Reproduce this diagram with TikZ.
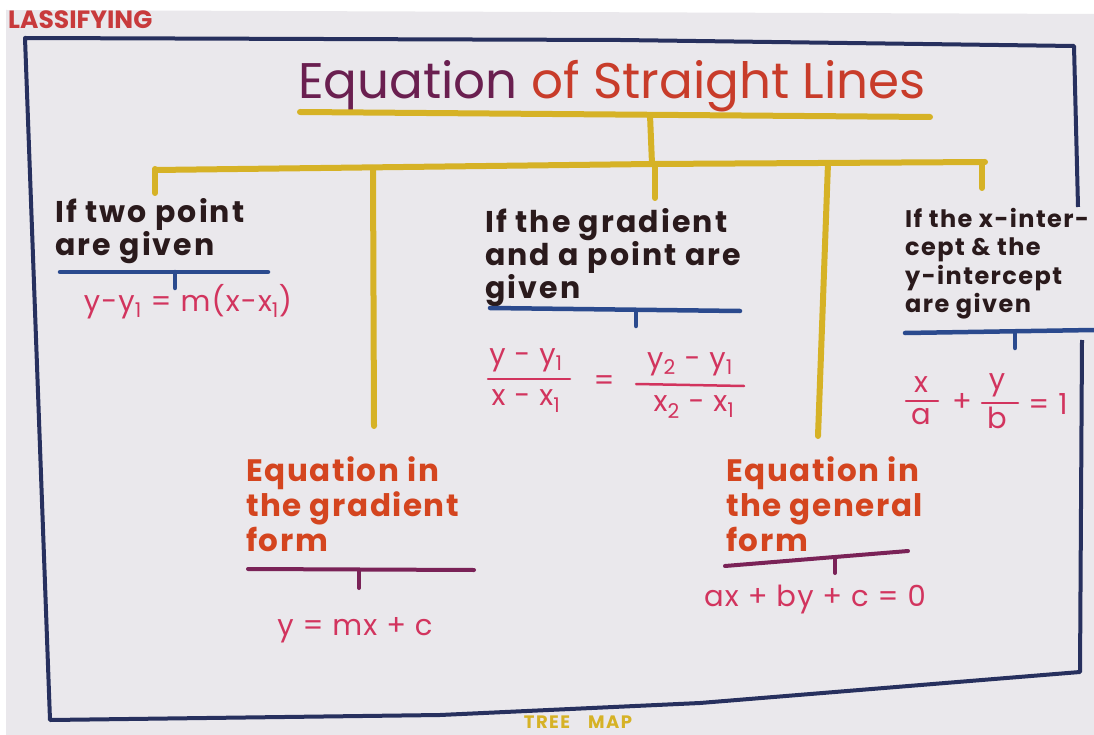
\documentclass[tikz,border=0pt]{standalone}
\usepackage{fontspec}
\setmainfont{Poppins}
\definecolor{paper}{HTML}{EAE8EC}
\definecolor{framenavy}{HTML}{27305E}
\definecolor{treeyellow}{HTML}{D6B226}
\definecolor{penblue}{HTML}{2B4A8E}
\definecolor{penpurple}{HTML}{7A2257}
\definecolor{inkblack}{HTML}{2A1A1C}
\definecolor{titlepurple}{HTML}{6A1F50}
\definecolor{titlered}{HTML}{C83C2A}
\definecolor{inkpink}{HTML}{D2345E}
\definecolor{inkorange}{HTML}{D4451F}
\definecolor{classred}{HTML}{C83A3C}
\begin{document}
\begin{tikzpicture}[x=1pt,y=-1pt,
  yel/.style={draw=treeyellow,line width=6pt,line cap=round},
  blu/.style={draw=penblue,line width=4.5pt,line cap=round},
  pur/.style={draw=penpurple,line width=4pt,line cap=round},
  framestyle/.style={draw=framenavy,line width=4pt,line join=round},
  blk/.style={text=inkblack,align=left,anchor=north west,inner sep=0pt,font=\fontsize{30}{33}\selectfont\bfseries\addfontfeatures{LetterSpace=7}},
  blksmall/.style={text=inkblack,align=left,anchor=north west,inner sep=0pt,font=\fontsize{24}{28.5}\selectfont\bfseries\addfontfeatures{LetterSpace=6}},
  org/.style={text=inkorange,align=left,anchor=north west,inner sep=0pt,font=\fontsize{31}{35}\selectfont\bfseries\addfontfeatures{LetterSpace=5}},
  pnk/.style={text=inkpink,inner sep=0pt,font=\fontsize{29}{30}\selectfont\addfontfeatures{LetterSpace=4}},
  fracbar/.style={draw=inkpink,line width=2.5pt,line cap=round}
]
\useasboundingbox (0,0) rectangle (1094,735);
\fill[white] (0,0) rectangle (1094,735);
\fill[paper] (6,10) -- (1094,14) -- (1094,735) -- (6,735) -- cycle;

% frame
\coordinate (TL) at (25,38);
\coordinate (TM) at (620,40);
\coordinate (TR) at (1074,46);
\coordinate (RA) at (1078,207);
\coordinate (RB) at (1082,340);
\coordinate (BR) at (1080,672);
\coordinate (BM1) at (700,703);
\coordinate (BM2) at (440,715);
\coordinate (BL) at (50,720);
\draw[framestyle] (RA) -- (TR) -- (TM) -- (TL) -- (BL) -- (BM2) -- (BM1) -- (BR) -- (RB);

% header texts
\node[text=classred,anchor=north west,inner sep=0pt,font=\fontsize{25}{25}\selectfont\bfseries] (cls) at (8,11) {LASSIFYING};
\node[text=treeyellow,inner sep=0pt,font=\fontsize{18}{18}\selectfont\bfseries\addfontfeatures{LetterSpace=8}] (tm) at (578,722) {TREE\quad MAP};

% title
\node[inner sep=0pt,font=\fontsize{50}{52}\selectfont] (title) at (612,86)
  {\textcolor{titlepurple}{Equation} \textcolor{titlered}{of Straight Lines}};

% tree
\coordinate (tl) at (300,112);
\coordinate (tr) at (930,117);
\coordinate (tj) at (650,115);
\coordinate (bj) at (652,164);
\coordinate (bl) at (155,170);
\coordinate (br) at (985,162);
\draw[yel] (tl) -- (tr);
\draw[yel] (tj) -- (bj);
\draw[yel] (bl) -- (bj) -- (br);
\coordinate (d1) at (155,169);
\coordinate (d2) at (373,168);
\coordinate (d3) at (655,164);
\coordinate (d4) at (828,163);
\coordinate (d5) at (982,162);
\draw[yel] (d1) -- (155,193);
\draw[yel] (d2) -- (374,426);
\draw[yel] (d3) -- (655,198);
\draw[yel] (d4) -- (818,436);
\draw[yel] (d5) -- (982,188);

% node 1
\node[blk] (n1) at (55,198) {If two point\\are given};
\draw[blu] (60,272) -- (268,272);
\draw[blu] (175,272) -- (175,288);
\node[pnk] (f1) at (188,302) {y-y\textsubscript{1} = m(x-x\textsubscript{1})};

% node 2
\node[blk] (n2) at (485,208) {If the gradient\\and a point are\\given};
\draw[blu] (490,308) -- (740,311);
\draw[blu] (636,310) -- (636,326);
\node[pnk] (f2a) at (526,360) {y - y\textsubscript{1}};
\draw[fracbar] (488,379) -- (570,379);
\node[pnk] (f2b) at (526,401) {x - x\textsubscript{1}};
\node[pnk] (f2eq) at (604,383) {=};
\node[pnk] (f2c) at (690,364) {y\textsubscript{2} - y\textsubscript{1}};
\draw[fracbar] (636,384) -- (744,386);
\node[pnk] (f2d) at (694,407) {x\textsubscript{2} - x\textsubscript{1}};

% node 3
\node[blksmall] (n3) at (905,208) {If the x-inter-\\cept \& the\\y-intercept\\are given};
\draw[blu] (905,333) -- (1094,330);
\draw[blu] (1015,332) -- (1015,348);
\node[pnk] (f3a) at (921,385) {x};
\draw[fracbar] (906,401) -- (938,401);
\node[pnk] (f3b) at (921,417) {a};
\node[pnk] (f3p) at (962,402) {+};
\node[pnk] (f3c) at (997,385) {y};
\draw[fracbar] (982,403) -- (1018,403);
\node[pnk] (f3d) at (997,418) {b};
\node[pnk] (f3e) at (1048,404) {= 1};

% node 4
\node[org] (n4) at (246,456) {Equation in\\the gradient\\form};
\draw[pur] (248,569) -- (474,570);
\draw[pur] (359,570) -- (359,588);
\node[pnk] (f4) at (355,630) {y = mx + c};

% node 5
\node[org] (n5) at (726,456) {Equation in\\the general\\form};
\draw[pur] (725,566) -- (908,551);
\draw[pur] (835,558) -- (835,573);
\node[pnk] (f5) at (815,600) {ax + by + c = 0};
\end{tikzpicture}
\end{document}
